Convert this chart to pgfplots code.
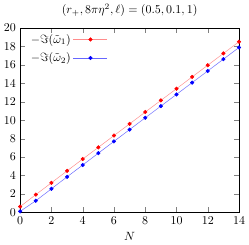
\documentclass[border=0pt]{standalone}
\usepackage{pgfplots}
\pgfplotsset{compat=1.18}
\begin{document}
\begin{tikzpicture}
\begin{axis}[
  scale only axis,
  width=183pt, height=154pt,
  xmin=0, xmax=14, ymin=0, ymax=20,
  xtick={0,2,...,14}, ytick={0,2,...,20},
  xlabel={$N$},
  title={$(r_+,8\pi\eta^2,\ell)=(0.5,0.1,1)$},
  legend style={at={(0.02,0.995)}, anchor=north west, draw=none, fill=none, legend cell align=left, row sep=2.5pt},
  legend plot pos=right,
  legend image code/.code={\draw[mark repeat=2,mark phase=2,#1] plot coordinates {(0cm,0cm)(0.5cm,0cm)(1cm,0cm)};},
]
\addplot[red!45, mark=*, mark size=1.5pt, mark options={draw=red, fill=red}] coordinates {
(0,0.62)(1,1.92)(2,3.2)(3,4.5)(4,5.78)(5,7.05)(6,8.33)(7,9.6)(8,10.88)(9,12.15)(10,13.42)(11,14.7)(12,15.97)(13,17.25)(14,18.52)};
\addlegendentry{$-\Im(\tilde\omega_1)$}
\addplot[blue!60, mark=*, mark size=1.5pt, mark options={draw=blue, fill=blue}] coordinates {
(0,0.1)(1,1.25)(2,2.55)(3,3.85)(4,5.13)(5,6.42)(6,7.7)(7,8.98)(8,10.26)(9,11.53)(10,12.8)(11,14.08)(12,15.35)(13,16.63)(14,17.9)};
\addlegendentry{$-\Im(\tilde\omega_2)$}
\end{axis}
\end{tikzpicture}
\end{document}
